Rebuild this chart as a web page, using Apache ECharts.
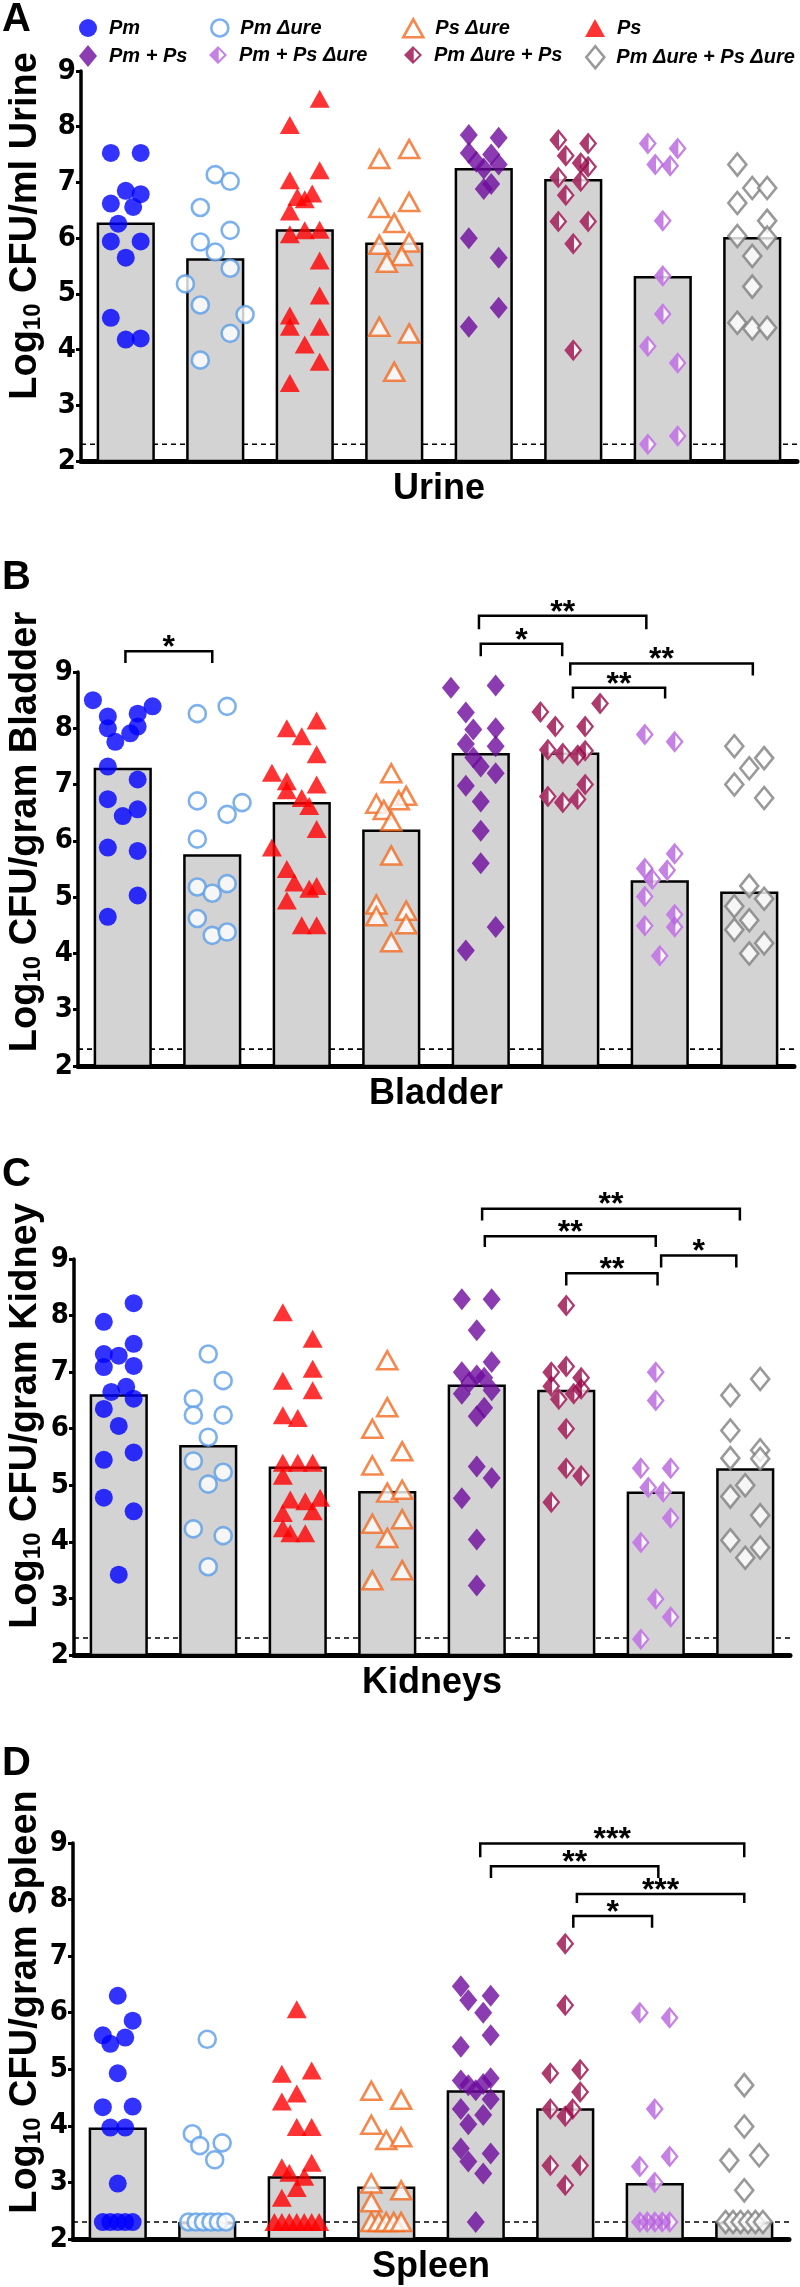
<!DOCTYPE html>
<html>
<head>
<meta charset="utf-8">
<script src="https://cdn.jsdelivr.net/npm/echarts@6/dist/echarts.min.js"></script>
<style>
html,body{margin:0;padding:0;background:#fff}
#chart{width:800px;height:2287px}
</style>
</head>
<body>
<div id="chart"></div>
<script>
// groups in x order
var groupNames = ['Pm','Pm Δure','Ps','Ps Δure','Pm + Ps','Pm Δure + Ps','Pm + Ps Δure','Pm Δure + Ps Δure'];
var organs = ['Urine','Bladder','Kidneys','Spleen'];
var yTitles = [' CFU/ml Urine',' CFU/gram Bladder',' CFU/gram Kidney',' CFU/gram Spleen'];
var panelLetters = ['A','B','C','D'];
var detectionLimit = 2.3;

// medians (bar heights)
var urineMedians   = [6.28, 5.64, 6.16, 5.92, 7.26, 7.06, 5.32, 6.02];
var bladderMedians = [7.30, 5.76, 6.69, 6.20, 7.56, 7.57, 5.30, 5.10];
var kidneyMedians  = [6.61, 5.71, 5.33, 4.90, 6.78, 6.69, 4.89, 5.30];
var spleenMedians  = [3.97, 2.30, 3.11, 2.93, 4.63, 4.31, 2.99, 2.30];

// each point: [log10 CFU, horizontal slot in 1/12 of a column]
var urinePoints = [
  [[7.53,-2],[7.53,2],[6.85,0],[6.79,2],[6.62,-2],[6.56,1],[6.26,-1],[5.94,-2],[5.94,2],[5.65,0],[4.57,-2],[4.18,0],[4.2,2]],
  [[7.14,0],[7.02,2],[6.55,-2],[6.14,2],[5.93,-2],[5.75,0],[5.46,2],[5.18,-4],[4.8,-2],[4.63,4],[4.29,2],[3.81,-2]],
  [[8.5,2],[8.03,-2],[7.22,2],[7.04,-2],[6.8,1],[6.74,-1],[6.7,0],[6.48,-2],[6.07,-2],[6.14,0],[6.15,2],[5.6,2],[4.97,2],[4.61,-2],[4.41,-2],[4.41,2],[4.09,0],[3.78,2],[3.4,-2]],
  [[7.6,2],[7.42,-2],[6.65,2],[6.54,-2],[6.27,0],[5.88,-2],[5.92,2],[5.68,1],[5.56,-1],[4.41,-2],[4.29,2],[3.6,0]],
  [[7.85,-2],[7.8,2],[7.53,-2],[7.5,1],[7.37,-1],[7.32,2],[7.25,0],[6.97,1],[6.88,0],[6.0,-2],[5.65,2],[4.75,2],[4.41,-2]],
  [[7.76,-2],[7.7,2],[7.48,-1],[7.35,1],[7.28,2],[7.09,-2],[7.02,1],[6.77,-1],[6.3,-2],[6.3,2],[5.9,0],[3.99,0]],
  [[7.7,-2],[7.61,2],[7.32,-1],[7.3,1],[6.31,0],[5.32,0],[4.64,0],[4.06,-2],[3.76,2],[2.45,2],[2.3,-2]],
  [[7.32,-2],[6.9,0],[6.9,2],[6.63,-2],[6.31,2],[6.04,-2],[6.01,2],[5.68,0],[5.13,0],[4.48,-2],[4.38,0],[4.39,2]]
];
var bladderPoints = [
  [[8.5,-4],[8.39,4],[8.26,2],[8.21,-2],[8.03,2],[8.0,-2],[7.91,1],[7.76,-1],[7.32,-2],[7.09,2],[6.74,-2],[6.56,2],[6.44,0],[5.88,-2],[5.82,2],[5.03,2],[4.65,-2]],
  [[8.26,-2],[8.39,2],[6.71,-2],[6.47,2],[6.68,4],[6.03,-2],[5.18,-2],[5.07,0],[5.24,2],[4.62,-2],[4.32,0],[4.38,2]],
  [[8.14,2],[8.0,-2],[7.86,0],[7.54,2],[7.21,-4],[7.06,-2],[7.0,2],[6.9,-2],[6.76,0],[6.62,1],[6.21,2],[5.88,-4],[5.5,-2],[5.26,-1],[5.2,2],[5.15,1],[4.94,-2],[4.5,0],[4.5,2]],
  [[7.2,0],[6.8,2],[6.72,1],[6.66,-2],[6.55,-1],[6.35,0],[5.74,0],[4.87,-2],[4.66,-2],[4.76,2],[4.52,2],[4.2,0]],
  [[8.72,-4],[8.76,2],[8.28,-2],[7.98,-1],[8.0,2],[7.72,-2],[7.68,2],[7.48,-1],[7.32,0],[7.2,2],[6.98,-2],[6.7,0],[6.18,0],[5.6,0],[4.47,2],[4.05,-2]],
  [[8.44,4],[8.29,-4],[8.03,-2],[8.03,2],[7.62,-3],[7.55,-1],[7.52,1],[7.6,2],[7.0,2],[6.79,-3],[6.68,-1],[6.74,1]],
  [[7.89,-2],[7.76,2],[5.77,2],[5.51,-2],[5.48,1],[5.32,-1],[5.01,-2],[4.69,2],[4.49,-2],[4.47,2],[3.96,0]],
  [[7.68,-2],[7.47,2],[7.29,0],[7.0,-2],[6.76,2],[5.2,0],[4.97,2],[4.84,-2],[4.59,0],[4.42,-2],[4.18,2],[4.0,0]]
];
var kidneyPoints = [
  [[8.22,2],[7.89,-2],[7.5,2],[7.32,-2],[7.29,0],[7.09,-2],[7.11,2],[6.74,1],[6.65,-1],[6.53,2],[6.35,-2],[6.05,0],[5.58,2],[5.45,-2],[4.78,-2],[4.54,2],[3.42,0]],
  [[7.32,0],[6.85,2],[6.53,-2],[6.24,-2],[6.24,2],[5.85,0],[5.43,-2],[5.23,2],[5.02,0],[4.23,-2],[4.11,2],[3.56,0]],
  [[8.06,-2],[7.59,2],[7.06,2],[6.85,-2],[6.68,2],[6.24,-2],[6.19,0],[5.4,-2],[5.4,0],[5.4,2],[5.17,-2],[4.75,-1],[4.72,1],[4.78,3],[4.51,-2],[4.54,2],[4.24,-2],[4.15,-1],[4.15,1]],
  [[7.21,0],[6.38,0],[6.0,-2],[5.6,2],[5.35,-2],[4.87,0],[4.92,2],[4.32,-2],[4.4,2],[4.07,0],[3.5,2],[3.32,-2]],
  [[8.29,-2],[8.29,2],[7.74,0],[7.18,2],[7.0,-2],[6.94,0],[6.9,1],[6.82,-1],[6.62,-2],[6.68,2],[6.37,1],[6.22,0],[5.33,0],[5.13,2],[4.77,-2],[4.04,0],[3.23,0]],
  [[8.18,0],[7.1,0],[7.0,-2],[6.9,2],[6.75,-2],[6.7,2],[6.62,1],[6.52,-1],[6.0,0],[5.3,0],[5.17,2],[4.7,-2]],
  [[7.0,0],[6.5,0],[5.3,-2],[5.3,2],[4.96,-1],[4.88,1],[4.42,2],[3.99,-2],[2.99,0],[2.67,2],[2.28,-2]],
  [[6.88,2],[6.59,-2],[5.97,-2],[5.62,2],[5.48,-2],[5.47,2],[5.0,0],[4.8,-2],[4.47,2],[4.03,-2],[3.9,2],[3.72,0]]
];
var spleenPoints = [
  [[6.3,0],[5.86,2],[5.6,-2],[5.56,1],[5.45,-1],[4.93,0],[4.33,-2],[4.34,2],[3.97,-1],[3.97,1],[2.98,0],[2.3,-2],[2.3,-1],[2.3,0],[2.3,1],[2.3,2]],
  [[5.53,0],[3.86,-2],[3.65,-1],[3.7,2],[3.4,1],[2.3,-2.5],[2.3,-1.5],[2.3,-0.5],[2.3,0.5],[2.3,1.5],[2.3,2.5]],
  [[6.06,0],[4.92,-2],[4.98,2],[4.57,0],[4.43,-2],[3.98,0],[3.98,2],[3.27,-2],[3.35,2],[3.17,-1],[3.1,1],[2.9,0],[2.73,-2],[2.3,-3],[2.3,-2],[2.3,-1],[2.3,0],[2.3,1],[2.3,2],[2.3,3]],
  [[4.62,-2],[4.46,2],[4.02,-2],[3.75,0],[3.8,2],[2.98,-2],[2.86,2],[2.65,-2],[2.3,-2],[2.3,-1],[2.3,0],[2.3,1],[2.3,2]],
  [[6.47,-2],[6.3,2],[6.22,-1],[6.0,1],[5.6,2],[5.4,-2],[4.8,-2],[4.72,-1],[4.63,0],[4.74,1],[4.84,2],[4.47,2],[4.3,-2],[4.19,1],[4.03,-1],[3.6,-2],[3.51,2],[3.37,-1],[3.16,1],[2.3,0]],
  [[7.22,0],[6.13,0],[4.93,-2],[4.99,2],[4.6,2],[4.3,-2],[4.3,1],[4.17,0],[3.3,-2],[3.3,2],[2.95,0]],
  [[6.0,-2],[5.91,2],[4.3,0],[3.46,2],[3.28,-2],[3.0,0],[2.3,-2],[2.3,-1],[2.3,0],[2.3,1],[2.3,2]],
  [[4.72,0],[3.99,0],[3.39,-2],[3.48,2],[2.86,0],[2.3,-2.5],[2.3,-1.5],[2.3,-0.5],[2.3,0.5],[2.3,1.5],[2.3,2.5]]
];

// significance brackets: [from group, to group, bar level, tip level, stars]
var urineBrackets = [];
var bladderBrackets = [[0.03,1.0,9.37,9.16,'*'],[3.98,5.85,10.0,9.76,'**'],[4.0,4.91,9.5,9.28,'*'],[5.0,7.04,9.15,8.94,'**'],[5.03,6.06,8.72,8.53,'**']];
var kidneyBrackets = [[4.06,6.94,9.89,9.68,'**'],[4.09,6.0,9.4,9.21,'**'],[5.0,6.02,8.75,8.53,'**'],[6.06,6.9,9.06,8.85,'*']];
var spleenBrackets = [[4.05,7.0,8.99,8.75,'***'],[4.17,6.04,8.59,8.38,'**'],[5.13,7.0,8.1,7.94,'***'],[5.09,5.97,7.71,7.5,'*']];

var allMedians = [urineMedians, bladderMedians, kidneyMedians, spleenMedians];
var allPoints = [urinePoints, bladderPoints, kidneyPoints, spleenPoints];
var allBrackets = [urineBrackets, bladderBrackets, kidneyBrackets, spleenBrackets];

var halfDiamond = 'path://M50,0 L100,50 L50,100 L0,50 Z M54,20 L54,80 L84,50 Z';
var marks = [
  {symbol:'circle', size:18, fill:'#0000ff'},
  {symbol:'circle', size:17, border:'#5b9de8'},
  {symbol:'triangle', size:[20,18], fill:'#ff0000'},
  {symbol:'triangle', size:[20,18], border:'#f26a21'},
  {symbol:'diamond', size:[18,22], fill:'#6d0b9c'},
  {symbol:halfDiamond, size:[18,22], fill:'#990a4a', half:true},
  {symbol:halfDiamond, size:[18,22], fill:'#b662dc', half:true},
  {symbol:'diamond', size:[18,22], border:'#808080'}
];

var grids = [
  {left:81, top:71, width:716, height:390},
  {left:78, top:672, width:716, height:394},
  {left:74, top:1259, width:716, height:396},
  {left:73, top:1843, width:716, height:396}
];
var letterY = [20, 578, 1175, 1764];
var yNameY = [226, 832, 1416, 2002];

var boldFont = '"Liberation Sans", Arial, sans-serif';
var narrowFont = '"Liberation Sans Narrow", "Arial Narrow", "DejaVu Sans Condensed", sans-serif';

function markStyle(m){
  if(m.border){
    return {color:'#fff', borderColor:m.border, borderWidth:2.6};
  }
  return {color:m.fill};
}

function panelSeries(k){
  var out = [];
  out.push({
    type:'line', xAxisIndex:2*k+1, yAxisIndex:k, silent:true, z:1,
    data:[[-0.5,detectionLimit],[7.5,detectionLimit]], symbol:'none',
    lineStyle:{color:'#000', width:1.6, type:[5,4]}
  });
  out.push({
    type:'bar', xAxisIndex:2*k, yAxisIndex:k, silent:true, z:2,
    data:allMedians[k], barWidth:'65%',
    itemStyle:{color:'#d3d3d3', borderColor:'#000', borderWidth:2.5}
  });
  allPoints[k].forEach(function(pts, g){
    var m = marks[g];
    var data = pts.map(function(p){ return [g + p[1]/12, p[0]]; });
    if(m.half){
      out.push({
        type:'scatter', name:'_back'+g, xAxisIndex:2*k+1, yAxisIndex:k, silent:true, z:3,
        data:data, symbol:'diamond', symbolSize:m.size, itemStyle:{color:'#fff'}
      });
    }
    out.push({
      type:'scatter', name:groupNames[g], xAxisIndex:2*k+1, yAxisIndex:k, silent:true, z:3,
      data:data, symbol:m.symbol, symbolSize:m.size, itemStyle:markStyle(m)
    });
  });
  var br = allBrackets[k];
  if(br.length){
    out.push({
      type:'custom', xAxisIndex:2*k+1, yAxisIndex:k, silent:true, z:4, clip:false,
      data:br.map(function(b){ return [b[0], b[1], b[2], b[3]]; }),
      renderItem:function(params, api){
        var x1 = api.value(0), x2 = api.value(1), y = api.value(2), yd = api.value(3);
        var p1 = api.coord([x1, yd]), p2 = api.coord([x1, y]), p3 = api.coord([x2, y]), p4 = api.coord([x2, yd]);
        return {type:'group', children:[
          {type:'polyline', shape:{points:[p1,p2,p3,p4]}, style:{stroke:'#000', lineWidth:2.5, fill:null}},
          {type:'text', x:(p2[0]+p3[0])/2, y:p2[1]-3, style:{
            text:br[params.dataIndex][4], font:'bold 32px ' + boldFont, fill:'#000',
            align:'center', verticalAlign:'middle', textAlign:'center', textVerticalAlign:'middle'}}
        ]};
      }
    });
  }
  return out;
}

var xAxes = [], yAxes = [], series = [], graphics = [];
for(var k = 0; k < 4; k++){
  xAxes.push({
    type:'category', gridIndex:k, data:groupNames,
    axisLine:{lineStyle:{color:'#000', width:5}},
    axisTick:{show:false}, axisLabel:{show:false},
    name:organs[k], nameLocation:'middle', nameGap:10,
    nameTextStyle:{fontSize:36, fontWeight:'bold', color:'#000', fontFamily:boldFont}
  });
  xAxes.push({type:'value', gridIndex:k, min:-0.5, max:7.5, show:false});
  yAxes.push({
    type:'value', gridIndex:k, min:2, max:9, interval:1,
    axisLine:{show:true, onZero:false, lineStyle:{color:'#000', width:3.5}},
    axisTick:{show:true, length:5, lineStyle:{color:'#000', width:3}},
    splitLine:{show:false},
    axisLabel:{fontSize:29, fontWeight:'bold', color:'#000', fontFamily:narrowFont, margin:5}
  });
  series = series.concat(panelSeries(k));
  graphics.push({
    type:'text', x:2, y:letterY[k],
    style:{text:panelLetters[k], font:'bold 40px ' + boldFont, fill:'#000',
      verticalAlign:'middle', textVerticalAlign:'middle'}
  });
  graphics.push({
    type:'text', x:26, y:yNameY[k], rotation:Math.PI/2,
    style:{
      text:'{b|Log}{s|10}{b|' + yTitles[k] + '}',
      fill:'#000', align:'center', verticalAlign:'middle', textAlign:'center', textVerticalAlign:'middle',
      rich:{
        b:{fontSize:38, fontWeight:'bold', fontFamily:boldFont, fill:'#000', color:'#000'},
        s:{fontSize:24, fontWeight:'bold', fontFamily:boldFont, fill:'#000', color:'#000', verticalAlign:'bottom', padding:[12,0,0,0]}
      }
    }
  });
}

// legend: two rows of four fixed columns
var legendSpots = [
  ['Pm', 74, 13], ['Pm Δure', 205, 13], ['Ps Δure', 397, 13], ['Ps', 580, 13],
  ['Pm + Ps', 74, 40], ['Pm + Ps Δure', 204, 40], ['Pm Δure + Ps', 399, 40], ['Pm Δure + Ps Δure', 580, 40]
];
var legends = legendSpots.map(function(s){
  var m = marks[groupNames.indexOf(s[0])];
  var w = Array.isArray(m.size) ? m.size[0] : m.size;
  var h = Array.isArray(m.size) ? m.size[1] : m.size;
  return {
    data:[{name:s[0], itemStyle:markStyle(m)}], left:s[1], top:s[2],
    itemWidth:w, itemHeight:h, selectedMode:false,
    textStyle:{fontSize:20, fontWeight:'bold', fontStyle:'italic', color:'#000', fontFamily:boldFont, padding:[0,0,0,7]}
  };
});

var chart = echarts.init(document.getElementById('chart'), null, {renderer:'canvas'});
chart.setOption({
  animation:false,
  backgroundColor:'#fff',
  grid:grids.map(function(g){ return Object.assign({outerBoundsMode:'none', containLabel:false}, g); }),
  xAxis:xAxes,
  yAxis:yAxes,
  legend:legends,
  series:series,
  graphic:graphics
});
</script>
</body>
</html>
